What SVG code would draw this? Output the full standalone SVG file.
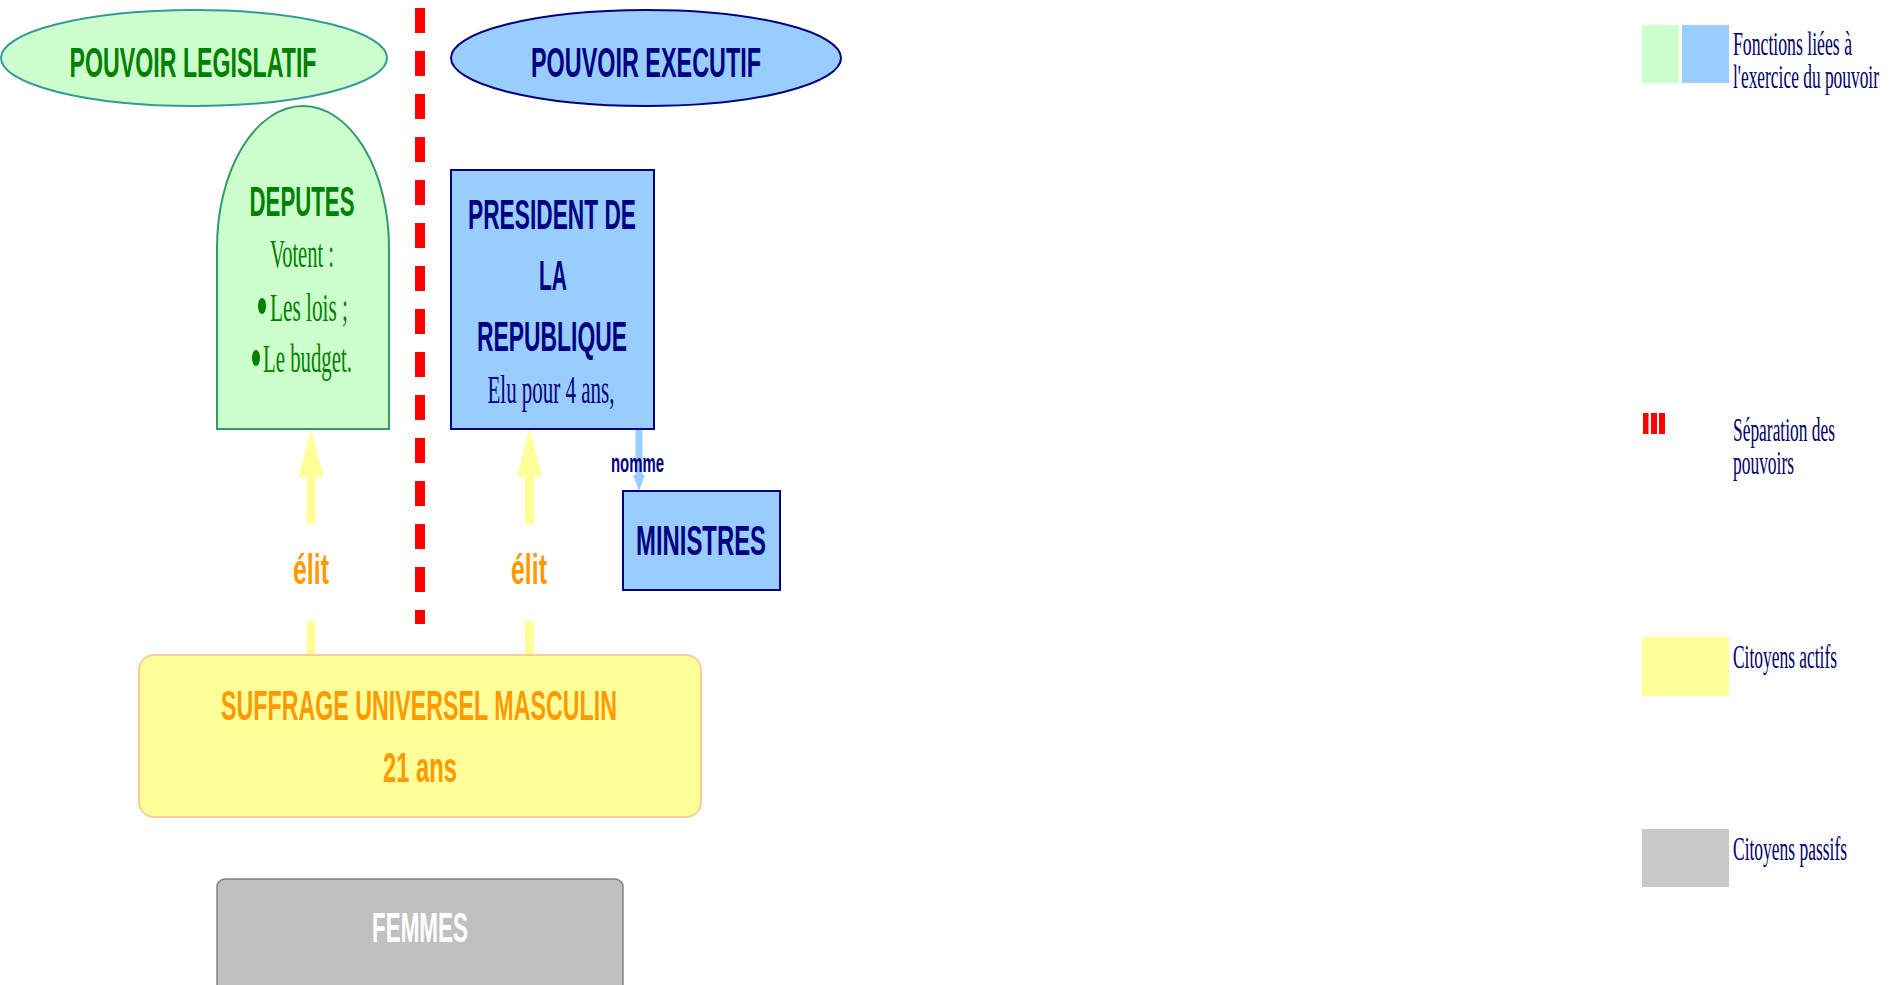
<svg xmlns="http://www.w3.org/2000/svg" width="1893" height="985" viewBox="0 0 1893 985">
<style>
.h{font-family:"Liberation Sans",Arial,sans-serif;font-weight:bold;font-size:43px;text-anchor:middle}
.s{font-family:"Liberation Serif","Times New Roman",serif;font-size:41px;text-anchor:middle}
.sl{font-family:"Liberation Serif","Times New Roman",serif;font-size:41px}
.lg{font-family:"Liberation Serif","Times New Roman",serif;font-size:34px;fill:#000066}
.green{fill:#008000}
.navy{fill:#000080}
.orange{fill:#ff9900}
.yarrow{fill:#ffff99}
</style>
<rect width="1893" height="985" fill="#ffffff"/>

<g id="connectors">
  <line id="separation" x1="420" y1="8" x2="420" y2="624" stroke="#ff0000" stroke-width="10" stroke-dasharray="25 18"/>
  <g id="elit-left">
    <polygon class="yarrow" points="311,429 323.5,477 298.5,477"/>
    <rect class="yarrow" x="306.5" y="476" width="9" height="48"/>
    <rect class="yarrow" x="306.5" y="621" width="9" height="35"/>
    <text class="h orange" x="311" y="584" textLength="36" lengthAdjust="spacingAndGlyphs">élit</text>
  </g>
  <g id="elit-right">
    <polygon class="yarrow" points="529.5,429 542,477 517,477"/>
    <rect class="yarrow" x="525" y="476" width="9" height="48"/>
    <rect class="yarrow" x="525" y="621" width="9" height="35"/>
    <text class="h orange" x="529" y="584" textLength="36" lengthAdjust="spacingAndGlyphs">élit</text>
  </g>
  <g id="nomme">
    <rect x="635.5" y="429" width="7" height="47" fill="#99ccff"/>
    <polygon points="633,475 645,475 639,491" fill="#99ccff"/>
    <text x="637.5" y="472" font-family="Liberation Sans, Arial, sans-serif" font-weight="bold" font-size="26" text-anchor="middle" fill="#000080" textLength="53" lengthAdjust="spacingAndGlyphs">nomme</text>
  </g>
</g>

<g id="pouvoir-legislatif">
  <ellipse cx="194" cy="58" rx="193" ry="48" fill="#ccffcc" stroke="#339999" stroke-width="2"/>
  <text class="h green" x="193" y="77" textLength="247" lengthAdjust="spacingAndGlyphs">POUVOIR LEGISLATIF</text>
</g>

<g id="pouvoir-executif">
  <ellipse cx="646" cy="58" rx="195" ry="48" fill="#99ccff" stroke="#000080" stroke-width="2"/>
  <text class="h navy" x="646" y="77" textLength="230" lengthAdjust="spacingAndGlyphs">POUVOIR EXECUTIF</text>
</g>

<g id="deputes">
  <path d="M217,429 V248 A86,142 0 0 1 389,248 V429 Z" fill="#ccffcc" stroke="#339966" stroke-width="2"/>
  <text class="h green" x="302" y="216" textLength="105" lengthAdjust="spacingAndGlyphs">DEPUTES</text>
  <text class="s green" x="302" y="267" textLength="64" lengthAdjust="spacingAndGlyphs">Votent :</text>
  <ellipse class="green" cx="262" cy="306" rx="4" ry="8"/>
  <text class="sl green" x="270" y="321" textLength="78" lengthAdjust="spacingAndGlyphs">Les lois ;</text>
  <ellipse class="green" cx="256" cy="358" rx="4" ry="8"/>
  <text class="sl green" x="263" y="372" textLength="89" lengthAdjust="spacingAndGlyphs">Le budget.</text>
</g>

<g id="president">
  <rect x="451" y="170" width="203" height="259" fill="#99ccff" stroke="#000080" stroke-width="2"/>
  <text class="h navy" x="552" y="229" textLength="168" lengthAdjust="spacingAndGlyphs">PRESIDENT DE</text>
  <text class="h navy" x="553" y="290" textLength="28" lengthAdjust="spacingAndGlyphs">LA</text>
  <text class="h navy" x="552" y="351" textLength="150" lengthAdjust="spacingAndGlyphs">REPUBLIQUE</text>
  <text class="s navy" x="551" y="403" textLength="127" lengthAdjust="spacingAndGlyphs">Elu pour 4 ans,</text>
</g>

<g id="ministres">
  <rect x="623" y="491" width="157" height="99" fill="#99ccff" stroke="#000080" stroke-width="2"/>
  <text class="h navy" x="701" y="555" textLength="130" lengthAdjust="spacingAndGlyphs">MINISTRES</text>
</g>

<g id="suffrage">
  <rect x="139" y="655" width="562" height="162" rx="15" ry="15" fill="#ffff99" stroke="#ffcc99" stroke-width="2"/>
  <text class="h orange" x="419" y="720" textLength="396" lengthAdjust="spacingAndGlyphs">SUFFRAGE UNIVERSEL MASCULIN</text>
  <text class="h orange" x="420" y="782" textLength="74" lengthAdjust="spacingAndGlyphs">21 ans</text>
</g>

<g id="femmes">
  <rect x="217" y="879" width="406" height="120" rx="8" ry="8" fill="#c0c0c0" stroke="#808080" stroke-width="1.5"/>
  <text class="h" x="420" y="942" fill="#ffffff" textLength="96" lengthAdjust="spacingAndGlyphs">FEMMES</text>
</g>

<g id="legend">
  <rect x="1642" y="25" width="37" height="58" fill="#ccffcc"/>
  <rect x="1682" y="25" width="47" height="58" fill="#99ccff"/>
  <text class="lg" x="1733" y="55" textLength="119" lengthAdjust="spacingAndGlyphs">Fonctions liées à</text>
  <text class="lg" x="1733" y="88" textLength="146" lengthAdjust="spacingAndGlyphs">l'exercice du pouvoir</text>
  <rect x="1643" y="413" width="5.5" height="21" fill="#ff0000"/>
  <rect x="1651" y="413" width="6" height="21" fill="#ff0000"/>
  <rect x="1659" y="413" width="6" height="21" fill="#ff0000"/>
  <text class="lg" x="1733" y="441" textLength="102" lengthAdjust="spacingAndGlyphs">Séparation des</text>
  <text class="lg" x="1733" y="474" textLength="61" lengthAdjust="spacingAndGlyphs">pouvoirs</text>
  <rect x="1642" y="637" width="87" height="59" fill="#ffff99"/>
  <text class="lg" x="1733" y="668" textLength="104" lengthAdjust="spacingAndGlyphs">Citoyens actifs</text>
  <rect x="1642" y="829" width="87" height="58" fill="#c8c8c8"/>
  <text class="lg" x="1733" y="860" textLength="114" lengthAdjust="spacingAndGlyphs">Citoyens passifs</text>
</g>
</svg>
